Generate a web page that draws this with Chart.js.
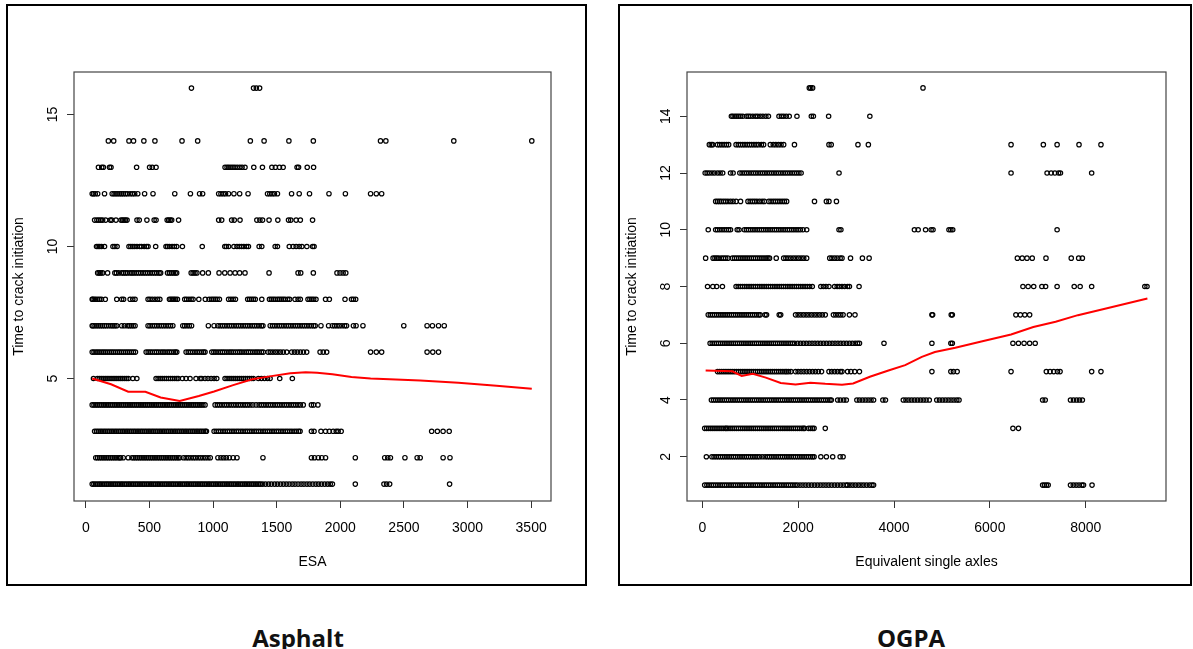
<!DOCTYPE html>
<html>
<head>
<meta charset="utf-8">
<script src="https://cdn.jsdelivr.net/npm/chart.js@4.4.1/dist/chart.umd.min.js"></script>
<style>
  html, body { margin: 0; padding: 0; background: #fff; overflow: hidden; }
  body { position: relative; width: 1193px; height: 649px; }
  .frame { position: absolute; top: 4px; height: 582px; border: 2px solid #000; box-sizing: border-box; }
  canvas { position: absolute; top: 0; }
  .caption { position: absolute; top: 621px; width: 300px; height: 30px; line-height: 30px; text-align: center;
             font: 700 24px "Open Sans", sans-serif; color: #111; }
</style>
</head>
<body>
<div class="frame" style="left:6px; width:581px"></div>
<div class="frame" style="left:618px; width:574px"></div>
<canvas id="asphalt" width="600" height="600" style="left:0"></canvas>
<canvas id="ogpa" width="580" height="600" style="left:613px"></canvas>
<div class="caption" style="left:148px">Asphalt</div>
<div class="caption" style="left:761px">OGPA</div>
<script>
'use strict'

// Asphalt sections: ESA of each section, grouped by years to crack initiation
const asphaltT1 = [50, 63, 77, 92, 106, 119, 134, 149, 163, 176, 191, 205, 220, 233, 248, 262, 277, 290, 305, 319, 334, 347, 362, 376, 391, 404, 419, 433, 448, 461, 476, 490, 505, 518, 533, 547, 562, 575, 590, 604, 619, 632, 647, 661, 676, 689, 704, 718, 733, 746, 761, 775, 790, 803, 818, 832, 847, 860, 875, 889, 904, 917, 932, 946, 961, 974, 989, 1003, 1018, 1031, 1046, 1060, 1075, 1088, 1103, 1117, 1132, 1145, 1160, 1174, 1189, 1202, 1217, 1231, 1246, 1259, 1274, 1288, 1303, 1316, 1331, 1345, 1360, 1373, 1390, 1412, 1436, 1458, 1483, 1505, 1529, 1552, 1575, 1598, 1622, 1644, 1668, 1692, 1714, 1738, 1760, 1784, 1808, 1830, 1853, 1877, 1900, 1921, 1938, 2118, 2343, 2364, 2388, 2859];
const asphaltT2 = [78, 92, 107, 121, 136, 150, 165, 179, 194, 208, 223, 237, 252, 266, 273, 294, 333, 363, 377, 392, 406, 421, 435, 450, 464, 479, 493, 508, 522, 537, 551, 566, 580, 595, 609, 624, 638, 653, 667, 682, 696, 711, 725, 738, 768, 788, 806, 826, 845, 863, 883, 902, 921, 940, 960, 978, 1038, 1062, 1083, 1104, 1128, 1158, 1188, 1392, 1773, 1797, 1827, 1854, 1884, 2118, 2349, 2373, 2394, 2508, 2604, 2628, 2808, 2862];
const asphaltT3 = [69, 84, 98, 113, 127, 142, 156, 171, 185, 200, 214, 229, 243, 258, 272, 287, 301, 316, 330, 345, 359, 374, 388, 403, 417, 432, 446, 461, 475, 490, 504, 519, 533, 548, 562, 577, 591, 606, 620, 635, 649, 664, 678, 693, 707, 722, 736, 751, 765, 780, 794, 809, 823, 838, 852, 867, 881, 896, 910, 925, 939, 948, 1008, 1025, 1043, 1060, 1078, 1095, 1113, 1130, 1148, 1165, 1183, 1200, 1218, 1235, 1253, 1270, 1288, 1305, 1323, 1340, 1358, 1375, 1393, 1410, 1428, 1445, 1463, 1480, 1498, 1515, 1533, 1550, 1568, 1585, 1603, 1620, 1638, 1655, 1672, 1684, 1773, 1794, 1848, 1884, 1914, 1944, 1968, 1983, 2007, 2718, 2763, 2808, 2856];
const asphaltT4 = [50, 64, 79, 93, 108, 122, 137, 151, 166, 180, 195, 209, 224, 238, 253, 267, 282, 296, 311, 325, 340, 354, 369, 383, 398, 412, 427, 441, 456, 470, 485, 499, 514, 528, 543, 557, 572, 586, 601, 615, 630, 644, 659, 673, 688, 702, 717, 731, 746, 760, 775, 789, 804, 818, 833, 847, 862, 876, 891, 905, 920, 937, 1016, 1034, 1052, 1070, 1089, 1107, 1125, 1143, 1162, 1180, 1198, 1216, 1235, 1253, 1271, 1290, 1312, 1338, 1362, 1380, 1398, 1416, 1434, 1452, 1470, 1488, 1506, 1524, 1542, 1560, 1578, 1596, 1614, 1632, 1650, 1668, 1686, 1709, 1773, 1790, 1824];
const asphaltT5 = [60, 91, 106, 121, 136, 152, 167, 182, 198, 214, 229, 244, 260, 275, 290, 306, 321, 335, 369, 401, 552, 568, 584, 600, 617, 633, 650, 666, 682, 699, 715, 727, 759, 788, 819, 866, 898, 911, 937, 960, 985, 1008, 1029, 1094, 1110, 1126, 1142, 1158, 1174, 1190, 1206, 1222, 1238, 1254, 1270, 1286, 1302, 1317, 1356, 1380, 1404, 1428, 1448, 1524, 1623];
const asphaltT6 = [50, 64, 80, 95, 110, 126, 141, 156, 172, 188, 203, 218, 234, 250, 265, 280, 296, 312, 327, 342, 358, 374, 390, 474, 490, 506, 522, 540, 556, 572, 590, 606, 622, 640, 656, 672, 690, 704, 715, 788, 805, 822, 840, 858, 875, 892, 910, 925, 937, 990, 1006, 1022, 1040, 1058, 1074, 1090, 1108, 1126, 1142, 1158, 1176, 1194, 1210, 1226, 1244, 1262, 1278, 1294, 1312, 1330, 1346, 1362, 1380, 1395, 1432, 1450, 1470, 1490, 1510, 1530, 1552, 1579, 1618, 1640, 1662, 1686, 1710, 1736, 1841, 1866, 1893, 2238, 2283, 2325, 2682, 2727, 2772];
const asphaltT7 = [50, 57, 72, 87, 102, 117, 132, 147, 162, 180, 198, 213, 228, 243, 282, 303, 327, 342, 357, 372, 387, 489, 504, 522, 540, 558, 576, 594, 612, 630, 648, 666, 684, 762, 777, 795, 813, 831, 963, 1008, 1038, 1056, 1074, 1092, 1110, 1128, 1146, 1164, 1182, 1200, 1218, 1236, 1254, 1272, 1290, 1308, 1326, 1344, 1362, 1380, 1392, 1449, 1467, 1485, 1503, 1521, 1539, 1557, 1575, 1593, 1611, 1629, 1647, 1665, 1683, 1701, 1719, 1737, 1755, 1773, 1791, 1803, 1848, 1908, 1938, 1956, 1974, 1992, 2013, 2034, 2049, 2103, 2124, 2178, 2499, 2682, 2724, 2772, 2817];
const asphaltT8 = [50, 54, 66, 78, 93, 108, 123, 153, 243, 282, 297, 348, 369, 387, 489, 504, 522, 543, 564, 582, 657, 669, 681, 693, 705, 720, 777, 792, 810, 828, 843, 888, 939, 969, 987, 1002, 1017, 1032, 1050, 1122, 1140, 1158, 1176, 1272, 1287, 1302, 1317, 1332, 1383, 1443, 1458, 1473, 1488, 1506, 1521, 1536, 1551, 1566, 1587, 1602, 1644, 1668, 1686, 1746, 1761, 1776, 1791, 1809, 1884, 1914, 2037, 2088, 2103, 2121];
const asphaltT9 = [93, 105, 117, 132, 171, 228, 240, 258, 282, 297, 312, 327, 348, 363, 378, 396, 414, 432, 450, 468, 486, 504, 522, 540, 558, 576, 588, 642, 657, 672, 687, 702, 714, 828, 843, 858, 873, 918, 963, 1047, 1092, 1134, 1173, 1209, 1251, 1440, 1668, 1689, 1788, 1974, 1998, 2022, 2043];
const asphaltT10 = [84, 96, 108, 123, 147, 213, 228, 246, 339, 354, 369, 384, 402, 423, 438, 459, 477, 489, 549, 630, 642, 657, 678, 696, 714, 759, 915, 1092, 1104, 1122, 1164, 1188, 1206, 1224, 1242, 1263, 1278, 1362, 1383, 1488, 1506, 1599, 1629, 1653, 1677, 1698, 1737, 1782, 1794];
const asphaltT11 = [69, 87, 102, 117, 132, 156, 192, 204, 237, 276, 288, 300, 312, 324, 402, 420, 480, 537, 552, 639, 651, 663, 675, 729, 1044, 1068, 1146, 1167, 1212, 1344, 1368, 1389, 1440, 1509, 1593, 1611, 1653, 1686, 1782];
const asphaltT12 = [50, 60, 74, 93, 147, 207, 222, 237, 252, 268, 282, 296, 312, 327, 348, 366, 384, 408, 462, 528, 699, 822, 894, 918, 1044, 1062, 1080, 1098, 1122, 1164, 1209, 1275, 1428, 1446, 1464, 1482, 1506, 1617, 1677, 1758, 1911, 2040, 2238, 2283, 2325];
const asphaltT13 = [99, 125, 138, 186, 198, 399, 501, 522, 552, 1094, 1110, 1124, 1140, 1156, 1172, 1190, 1210, 1228, 1251, 1320, 1388, 1462, 1490, 1522, 1551, 1660, 1672, 1740, 1790];
const asphaltT14 = [177, 219, 339, 375, 456, 543, 756, 879, 1293, 1401, 1596, 1788, 2316, 2358, 2892, 3505];
const asphaltT16 = [830, 1318, 1340, 1366];

const asphaltYears = [1, 2, 3, 4, 5, 6, 7, 8, 9, 10, 11, 12, 13, 14, 16];
const asphaltEsa = [asphaltT1, asphaltT2, asphaltT3, asphaltT4, asphaltT5, asphaltT6, asphaltT7, asphaltT8,
                    asphaltT9, asphaltT10, asphaltT11, asphaltT12, asphaltT13, asphaltT14, asphaltT16];

// smoothed trend through the asphalt points
const asphaltFitEsa = [50, 198, 333, 468, 588, 738, 888, 1008, 1158, 1308, 1458, 1608, 1728, 1818, 1938, 2088, 2238, 2388, 2628, 2928, 3228, 3505];
const asphaltFitYears = [5.0, 4.78, 4.5, 4.5, 4.28, 4.15, 4.34, 4.51, 4.75, 4.97, 5.09, 5.2, 5.24, 5.22, 5.16, 5.06, 5.0, 4.97, 4.92, 4.84, 4.73, 4.61];

const asphaltXTicks = [0, 500, 1000, 1500, 2000, 2500, 3000, 3500];
const asphaltYTicks = [5, 10, 15];

// OGPA sections: equivalent single axles, grouped by years to crack initiation
const ogpaT1 = [50, 96, 141, 188, 233, 280, 325, 372, 417, 464, 509, 556, 601, 648, 693, 740, 785, 832, 877, 924, 969, 1016, 1061, 1108, 1153, 1200, 1245, 1292, 1337, 1384, 1429, 1476, 1521, 1568, 1613, 1660, 1705, 1752, 1797, 1844, 1889, 1936, 1981, 2040, 2100, 2160, 2220, 2280, 2340, 2400, 2460, 2520, 2580, 2640, 2700, 2760, 2820, 2880, 2940, 3000, 3031, 3082, 3140, 3196, 3255, 3312, 3370, 3430, 3490, 3540, 3574, 7101, 7140, 7180, 7217, 7682, 7740, 7800, 7860, 7920, 7954, 8132];
const ogpaT2 = [85, 200, 245, 290, 335, 380, 425, 470, 515, 560, 605, 650, 695, 740, 785, 830, 875, 920, 965, 1010, 1055, 1100, 1145, 1190, 1250, 1310, 1360, 1405, 1450, 1495, 1540, 1585, 1630, 1675, 1720, 1765, 1810, 1855, 1900, 1945, 1990, 2035, 2080, 2125, 2170, 2215, 2260, 2300, 2333, 2473, 2589, 2721, 2876, 2938];
const ogpaT3 = [50, 92, 135, 178, 221, 264, 307, 350, 393, 436, 479, 502, 536, 580, 624, 668, 712, 756, 800, 844, 888, 932, 976, 1020, 1064, 1108, 1152, 1196, 1240, 1284, 1328, 1372, 1416, 1460, 1504, 1548, 1592, 1636, 1680, 1724, 1768, 1812, 1856, 1900, 1944, 1988, 2032, 2076, 2110, 2136, 2217, 2260, 2300, 2333, 2566, 6481, 6597];
const ogpaT4 = [190, 235, 280, 325, 370, 415, 460, 505, 550, 595, 640, 685, 730, 775, 820, 865, 910, 955, 1000, 1045, 1090, 1135, 1180, 1225, 1270, 1315, 1360, 1405, 1450, 1495, 1540, 1585, 1630, 1675, 1720, 1765, 1810, 1855, 1900, 1945, 1990, 2035, 2080, 2125, 2170, 2215, 2260, 2305, 2350, 2395, 2440, 2485, 2530, 2575, 2620, 2665, 2692, 2824, 2880, 2950, 3005, 3225, 3280, 3340, 3400, 3460, 3520, 3574, 3767, 3822, 4194, 4250, 4310, 4370, 4430, 4490, 4550, 4610, 4670, 4736, 4892, 4950, 5010, 5070, 5130, 5190, 5250, 5310, 5357, 7101, 7155, 7682, 7745, 7810, 7870, 7930];
const ogpaT5 = [318, 362, 406, 450, 494, 538, 582, 626, 670, 714, 758, 802, 846, 890, 934, 978, 1022, 1066, 1110, 1154, 1198, 1242, 1286, 1330, 1374, 1418, 1462, 1506, 1550, 1594, 1638, 1682, 1726, 1760, 1800, 1850, 1946, 2000, 2060, 2120, 2180, 2240, 2300, 2360, 2420, 2488, 2643, 2700, 2760, 2820, 2880, 2915, 3031, 3100, 3180, 3279, 4791, 5186, 5240, 5318, 6442, 7178, 7256, 7333, 7411, 7465, 8124, 8318];
const ogpaT6 = [163, 207, 251, 295, 339, 383, 427, 471, 515, 559, 603, 647, 691, 735, 779, 823, 867, 911, 955, 999, 1043, 1087, 1131, 1175, 1219, 1263, 1307, 1351, 1395, 1439, 1483, 1527, 1571, 1615, 1659, 1703, 1747, 1791, 1835, 1880, 1927, 1990, 2050, 2110, 2170, 2230, 2290, 2350, 2410, 2470, 2530, 2590, 2650, 2710, 2770, 2830, 2890, 2950, 3010, 3070, 3130, 3190, 3240, 3280, 3791, 4791, 5186, 5217, 6481, 6597, 6714, 6830, 6946];
const ogpaT7 = [124, 168, 212, 256, 300, 344, 388, 432, 476, 520, 564, 608, 652, 696, 740, 784, 828, 872, 916, 960, 1004, 1048, 1092, 1136, 1180, 1209, 1310, 1341, 1605, 1636, 1946, 2000, 2056, 2112, 2168, 2224, 2280, 2336, 2392, 2448, 2504, 2566, 2736, 2786, 2838, 2888, 2938, 3070, 3186, 4791, 4806, 5194, 5217, 6543, 6636, 6729, 6830];
const ogpaT8 = [110, 220, 300, 420, 705, 750, 795, 840, 885, 930, 975, 1020, 1065, 1110, 1155, 1200, 1245, 1290, 1335, 1380, 1425, 1470, 1515, 1560, 1605, 1650, 1695, 1740, 1785, 1830, 1875, 1920, 1965, 2010, 2055, 2100, 2145, 2190, 2240, 2295, 2473, 2527, 2581, 2643, 2760, 2814, 2860, 2915, 2969, 3031, 3070, 3271, 6690, 6799, 6915, 7085, 7163, 7403, 7760, 7884, 8124, 9233, 9279];
const ogpaT9 = [70, 225, 264, 302, 341, 395, 442, 488, 535, 628, 672, 716, 760, 804, 848, 892, 936, 980, 1024, 1068, 1112, 1156, 1200, 1244, 1288, 1332, 1370, 1403, 1543, 1698, 1744, 1791, 1845, 1899, 1954, 2008, 2062, 2116, 2178, 2659, 2705, 2760, 2814, 2876, 2915, 3093, 3341, 3481, 6574, 6675, 6775, 6884, 7171, 7698, 7853, 7930];
const ogpaT10 = [124, 279, 318, 364, 411, 457, 504, 550, 589, 729, 767, 876, 920, 965, 1010, 1055, 1100, 1146, 1190, 1235, 1280, 1326, 1370, 1415, 1460, 1506, 1550, 1596, 1640, 1686, 1730, 1776, 1820, 1866, 1910, 1956, 2000, 2046, 2101, 2178, 2853, 2892, 4426, 4504, 4659, 4775, 4814, 5147, 5186, 5225, 7403];
const ogpaT11 = [279, 318, 357, 395, 442, 488, 535, 589, 643, 705, 798, 953, 1000, 1047, 1093, 1140, 1194, 1248, 1295, 1388, 1434, 1481, 1527, 1574, 1620, 1667, 1713, 1760, 2341, 2589, 2643, 2799];
const ogpaT12 = [60, 101, 147, 202, 256, 318, 372, 426, 589, 643, 783, 830, 878, 925, 972, 1020, 1068, 1115, 1162, 1210, 1258, 1305, 1352, 1400, 1448, 1495, 1542, 1590, 1638, 1685, 1732, 1780, 1828, 1875, 1922, 1970, 2016, 2062, 2853, 6442, 7194, 7279, 7357, 7434, 7473, 8124];
const ogpaT13 = [147, 186, 217, 318, 364, 411, 457, 504, 550, 705, 752, 798, 845, 891, 938, 985, 1031, 1078, 1124, 1171, 1233, 1279, 1419, 1481, 1535, 1589, 1643, 1698, 1923, 2643, 2690, 3248, 3465, 6442, 7116, 7403, 7860, 8318];
const ogpaT14 = [607, 640, 682, 720, 760, 800, 845, 920, 960, 1000, 1054, 1109, 1155, 1209, 1264, 1326, 1380, 1600, 1651, 1698, 1752, 1814, 1975, 2275, 2318, 2636, 3496];
const ogpaT15 = [2233, 2264, 2302, 4605];

const ogpaYears = [1, 2, 3, 4, 5, 6, 7, 8, 9, 10, 11, 12, 13, 14, 15];
const ogpaAxles = [ogpaT1, ogpaT2, ogpaT3, ogpaT4, ogpaT5, ogpaT6, ogpaT7, ogpaT8,
                   ogpaT9, ogpaT10, ogpaT11, ogpaT12, ogpaT13, ogpaT14, ogpaT15];

const ogpaFitAxles = [70, 628, 822, 1054, 1326, 1636, 1946, 2256, 2566, 2915, 3147, 3496, 3884, 4233, 4581, 4853, 5279, 5822, 6442, 6907, 7372, 7837, 8380, 9287];
const ogpaFitYears = [5.04, 5.01, 4.85, 4.92, 4.79, 4.6, 4.55, 4.61, 4.57, 4.54, 4.58, 4.82, 5.04, 5.23, 5.52, 5.69, 5.84, 6.06, 6.31, 6.57, 6.76, 6.99, 7.21, 7.58];

const ogpaXTicks = [0, 2000, 4000, 6000, 8000];
const ogpaYTicks = [2, 4, 6, 8, 10, 12, 14];

Chart.defaults.font.family = '"Liberation Sans", Arial, sans-serif';
Chart.defaults.font.size = 14;
Chart.defaults.color = '#000';

function toPoints (years, groups) {
  const pts = [];
  groups.forEach((xs, i) => xs.forEach(x => pts.push({ x: x, y: years[i] })));
  return pts;
}

// plot box and the y tick labels, which stand parallel to the axis
const boxAndLabels = {
  id: 'boxAndLabels',
  afterDraw (chart) {
    const ctx = chart.ctx;
    const a = chart.chartArea;
    const y = chart.scales.y;
    ctx.save();
    ctx.strokeStyle = '#444';
    ctx.lineWidth = 1.2;
    ctx.strokeRect(a.left, a.top, a.right - a.left, a.bottom - a.top);
    ctx.font = '14px "Liberation Sans", Arial, sans-serif';
    ctx.fillStyle = '#000';
    ctx.textAlign = 'center';
    ctx.textBaseline = 'middle';
    y.ticks.forEach(t => {
      ctx.save();
      ctx.translate(a.left - 21, y.getPixelForValue(t.value));
      ctx.rotate(-Math.PI / 2);
      ctx.fillText(String(t.value), 0, 0);
      ctx.restore();
    });
    ctx.restore();
  }
};

function drawPanel (id, p) {
  const canvas = document.getElementById(id);
  const plotTop = 72, plotBottom = 501, plotLeft = 74;
  return new Chart(canvas, {
    type: 'scatter',
    data: {
      datasets: [{
        type: 'line',
        data: p.fitX.map((x, i) => ({ x: x, y: p.fitY[i] })),
        borderColor: '#ff0000',
        borderWidth: 2,
        pointRadius: 0,
        tension: 0,
        fill: false,
        order: 0
      }, {
        data: toPoints(p.years, p.groups),
        pointRadius: 2.2,
        pointBorderWidth: 1.2,
        pointBorderColor: '#000',
        pointBackgroundColor: 'rgba(0,0,0,0)',
        order: 1
      }]
    },
    options: {
      responsive: false,
      animation: false,
      devicePixelRatio: 1,
      events: [],
      layout: { padding: { left: 0, top: plotTop, right: canvas.width - p.plotRight, bottom: 0 } },
      plugins: { legend: { display: false }, tooltip: { enabled: false } },
      scales: {
        x: {
          type: 'linear',
          min: p.xMin,
          max: p.xMax,
          afterBuildTicks: s => { s.ticks = p.xTicks.map(v => ({ value: v })) },
          afterFit: s => { s.height = canvas.height - plotBottom },
          ticks: { padding: 12, maxRotation: 0, autoSkip: false, color: '#000', callback: v => String(v) },
          grid: { drawOnChartArea: false, drawTicks: true, tickLength: 7, color: '#333' },
          border: { display: false },
          title: { display: true, text: p.xTitle, color: '#000', font: { size: 14 }, padding: { top: 0, bottom: 29.6 } }
        },
        y: {
          type: 'linear',
          min: p.yMin,
          max: p.yMax,
          afterBuildTicks: s => { s.ticks = p.yTicks.map(v => ({ value: v })) },
          afterFit: s => { s.width = plotLeft },
          ticks: { display: false },
          grid: { drawOnChartArea: false, drawTicks: true, tickLength: 7, color: '#333' },
          border: { display: false },
          title: { display: true, text: 'Time to crack initiation', color: '#000', font: { size: 14 }, padding: { top: 11, bottom: 0 } }
        }
      }
    },
    plugins: [boxAndLabels]
  });
}

drawPanel('asphalt', {
  years: asphaltYears, groups: asphaltEsa,
  fitX: asphaltFitEsa, fitY: asphaltFitYears,
  xTicks: asphaltXTicks, yTicks: asphaltYTicks,
  xMin: -93, xMax: 3656, yMin: 0.36, yMax: 16.61,
  plotRight: 551, xTitle: 'ESA'
});

drawPanel('ogpa', {
  years: ogpaYears, groups: ogpaAxles,
  fitX: ogpaFitAxles, fitY: ogpaFitYears,
  xTicks: ogpaXTicks, yTicks: ogpaYTicks,
  xMin: -319, xMax: 9675, yMin: 0.44, yMax: 15.56,
  plotRight: 553, xTitle: 'Equivalent single axles'
});
</script>
</body>
</html>
